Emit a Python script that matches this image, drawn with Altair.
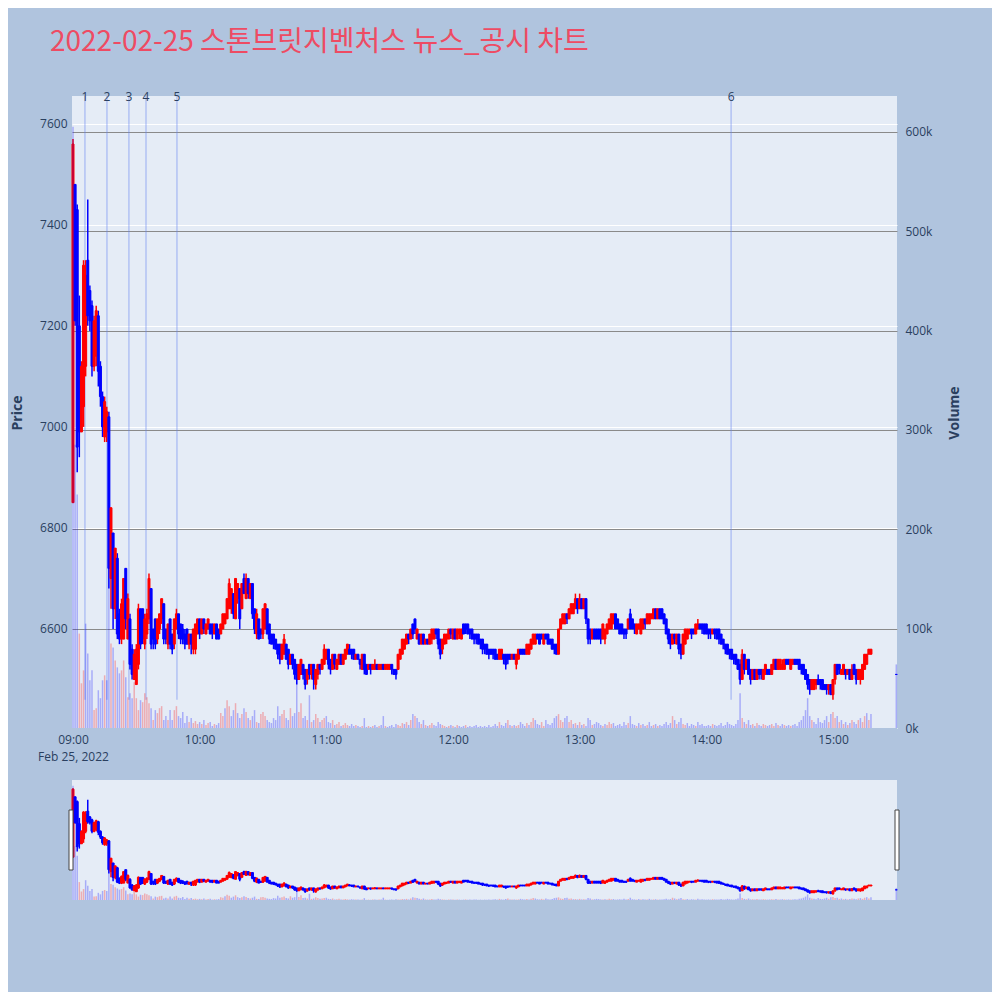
import altair as alt
import pandas as pd

TITLE = "2022-02-25 스톤브릿지벤처스 뉴스_공시 차트"
DATE_LABEL = "Feb 25, 2022"
DAY = "2022-02-25"
FIRST_MINUTE = "09:00"

# one candle per minute, 09:00 ... 15:18
opens = [
    6850, 7480, 7430, 7200, 6990, 7040, 7120, 7330, 7270, 7240,
    7120, 7140, 7220, 7120, 7060, 6980, 6990, 7020, 6700, 6790,
    6640, 6740, 6630, 6580, 6580, 6720, 6580, 6620, 6560, 6500,
    6490, 6530, 6640, 6640, 6570, 6590, 6620, 6680, 6600, 6620,
    6580, 6600, 6620, 6650, 6600, 6570, 6620, 6590, 6570, 6600,
    6630, 6610, 6600, 6590, 6600, 6570, 6590, 6560, 6560, 6590,
    6620, 6590, 6620, 6590, 6600, 6610, 6610, 6590, 6610, 6600,
    6590, 6600, 6610, 6620, 6640, 6640, 6670, 6620, 6660, 6680,
    6640, 6700, 6660, 6700, 6660, 6690, 6640, 6590, 6620, 6600,
    6590, 6600, 6640, 6610, 6590, 6590, 6580, 6570, 6570, 6540,
    6550, 6570, 6560, 6530, 6550, 6540, 6530, 6500, 6510, 6530,
    6520, 6500, 6530, 6510, 6530, 6490, 6510, 6530, 6520, 6530,
    6540, 6560, 6540, 6520, 6550, 6520, 6530, 6550, 6530, 6540,
    6550, 6560, 6560, 6560, 6540, 6550, 6540, 6520, 6550, 6530,
    6520, 6530, 6520, 6520, 6530, 6520, 6520, 6530, 6520, 6520,
    6520, 6530, 6520, 6520, 6520, 6540, 6550, 6560, 6570, 6590,
    6580, 6610, 6620, 6580, 6590, 6570, 6590, 6570, 6580, 6570,
    6580, 6580, 6600, 6600, 6580, 6560, 6570, 6580, 6580, 6600,
    6580, 6600, 6580, 6590, 6580, 6610, 6610, 6610, 6600, 6600,
    6590, 6590, 6590, 6580, 6580, 6570, 6570, 6560, 6560, 6560,
    6560, 6550, 6540, 6540, 6550, 6550, 6550, 6550, 6540, 6550,
    6530, 6540, 6560, 6560, 6560, 6550, 6550, 6560, 6570, 6570,
    6590, 6590, 6590, 6570, 6590, 6590, 6580, 6580, 6570, 6570,
    6550, 6600, 6610, 6610, 6630, 6620, 6630, 6630, 6640, 6660,
    6640, 6660, 6640, 6660, 6620, 6600, 6580, 6600, 6600, 6600,
    6600, 6580, 6580, 6590, 6600, 6600, 6610, 6630, 6620, 6610,
    6610, 6600, 6600, 6600, 6630, 6620, 6610, 6590, 6600, 6590,
    6600, 6620, 6610, 6610, 6620, 6620, 6640, 6620, 6640, 6640,
    6630, 6620, 6600, 6590, 6570, 6590, 6570, 6590, 6570, 6550,
    6570, 6580, 6590, 6600, 6600, 6590, 6600, 6610, 6610, 6610,
    6610, 6600, 6600, 6590, 6600, 6600, 6600, 6590, 6580, 6570,
    6570, 6560, 6560, 6550, 6550, 6540, 6530, 6500, 6550, 6520,
    6540, 6520, 6500, 6520, 6500, 6520, 6520, 6500, 6510, 6520,
    6520, 6510, 6520, 6540, 6520, 6520, 6520, 6520, 6540, 6540,
    6520, 6530, 6540, 6540, 6540, 6530, 6530, 6520, 6510, 6500,
    6480, 6480, 6490, 6500, 6500, 6500, 6490, 6490, 6480, 6490,
    6470, 6500, 6530, 6530, 6510, 6510, 6520, 6510, 6520, 6500,
    6530, 6520, 6500, 6500, 6500, 6520, 6530, 6550, 6550,
]
highs = [
    7570, 7480, 7440, 7260, 7130, 7330, 7330, 7450, 7280, 7250,
    7220, 7240, 7230, 7130, 7070, 7060, 7040, 7030, 6840, 6790,
    6760, 6750, 6640, 6660, 6700, 6720, 6670, 6630, 6570, 6560,
    6570, 6650, 6640, 6640, 6630, 6640, 6710, 6680, 6600, 6620,
    6620, 6630, 6660, 6650, 6600, 6610, 6620, 6590, 6620, 6640,
    6630, 6610, 6610, 6600, 6600, 6590, 6590, 6600, 6610, 6620,
    6620, 6620, 6620, 6610, 6620, 6610, 6610, 6610, 6610, 6600,
    6610, 6630, 6630, 6660, 6700, 6680, 6670, 6700, 6690, 6680,
    6690, 6710, 6710, 6700, 6690, 6690, 6640, 6640, 6620, 6600,
    6640, 6650, 6640, 6610, 6590, 6590, 6580, 6570, 6570, 6570,
    6590, 6570, 6560, 6550, 6550, 6540, 6530, 6530, 6540, 6530,
    6520, 6520, 6530, 6530, 6530, 6520, 6530, 6530, 6540, 6570,
    6560, 6560, 6540, 6550, 6550, 6540, 6550, 6550, 6550, 6560,
    6570, 6570, 6560, 6560, 6550, 6550, 6540, 6550, 6550, 6530,
    6530, 6530, 6530, 6540, 6530, 6530, 6530, 6530, 6530, 6530,
    6530, 6530, 6520, 6520, 6550, 6560, 6580, 6580, 6590, 6590,
    6600, 6610, 6620, 6600, 6590, 6590, 6590, 6580, 6580, 6590,
    6600, 6600, 6600, 6600, 6580, 6580, 6590, 6590, 6600, 6600,
    6600, 6600, 6600, 6600, 6600, 6610, 6610, 6610, 6600, 6600,
    6590, 6590, 6590, 6580, 6580, 6570, 6570, 6560, 6560, 6560,
    6560, 6550, 6560, 6560, 6550, 6550, 6550, 6550, 6550, 6550,
    6550, 6560, 6560, 6560, 6560, 6570, 6570, 6580, 6590, 6590,
    6590, 6590, 6590, 6590, 6590, 6590, 6580, 6580, 6570, 6570,
    6600, 6620, 6630, 6630, 6630, 6640, 6650, 6650, 6670, 6660,
    6670, 6660, 6660, 6660, 6620, 6600, 6600, 6600, 6600, 6600,
    6600, 6610, 6600, 6610, 6620, 6630, 6630, 6630, 6620, 6610,
    6610, 6600, 6600, 6620, 6640, 6620, 6610, 6610, 6610, 6620,
    6620, 6620, 6630, 6630, 6630, 6640, 6640, 6640, 6640, 6640,
    6630, 6620, 6600, 6590, 6590, 6590, 6590, 6590, 6570, 6590,
    6600, 6600, 6600, 6600, 6600, 6610, 6620, 6610, 6610, 6610,
    6610, 6600, 6600, 6600, 6600, 6600, 6600, 6590, 6580, 6570,
    6570, 6560, 6560, 6550, 6550, 6540, 6540, 6560, 6550, 6540,
    6540, 6520, 6520, 6520, 6520, 6520, 6520, 6520, 6530, 6520,
    6520, 6530, 6540, 6540, 6540, 6540, 6540, 6540, 6540, 6540,
    6540, 6540, 6540, 6540, 6540, 6530, 6530, 6520, 6510, 6500,
    6500, 6500, 6500, 6510, 6500, 6500, 6490, 6490, 6490, 6490,
    6500, 6530, 6530, 6530, 6520, 6530, 6520, 6520, 6520, 6530,
    6530, 6520, 6520, 6520, 6530, 6550, 6550, 6560, 6560,
]
lows = [
    6850, 7200, 6910, 6940, 6990, 7000, 7100, 7200, 7190, 7100,
    7110, 7120, 7080, 7040, 6980, 6970, 6970, 6680, 6640, 6600,
    6620, 6580, 6570, 6570, 6580, 6600, 6580, 6520, 6500, 6500,
    6490, 6520, 6560, 6570, 6560, 6580, 6610, 6560, 6560, 6560,
    6570, 6590, 6610, 6570, 6570, 6560, 6560, 6550, 6560, 6600,
    6580, 6570, 6570, 6560, 6570, 6560, 6550, 6550, 6550, 6590,
    6580, 6590, 6590, 6590, 6600, 6590, 6580, 6590, 6580, 6580,
    6590, 6600, 6610, 6620, 6640, 6630, 6620, 6620, 6650, 6600,
    6640, 6670, 6660, 6660, 6660, 6620, 6590, 6580, 6580, 6580,
    6580, 6600, 6590, 6570, 6570, 6560, 6560, 6540, 6530, 6540,
    6550, 6540, 6520, 6530, 6520, 6500, 6490, 6500, 6510, 6500,
    6480, 6490, 6500, 6500, 6480, 6480, 6500, 6510, 6520, 6530,
    6540, 6520, 6510, 6520, 6520, 6520, 6530, 6530, 6530, 6540,
    6550, 6550, 6540, 6540, 6540, 6540, 6520, 6520, 6510, 6510,
    6520, 6510, 6520, 6520, 6520, 6520, 6520, 6520, 6520, 6520,
    6520, 6510, 6510, 6500, 6520, 6540, 6550, 6560, 6570, 6570,
    6580, 6580, 6590, 6580, 6570, 6570, 6570, 6570, 6570, 6570,
    6570, 6580, 6580, 6560, 6540, 6550, 6570, 6570, 6580, 6580,
    6580, 6580, 6580, 6580, 6580, 6590, 6590, 6590, 6580, 6580,
    6570, 6570, 6570, 6560, 6550, 6550, 6550, 6540, 6550, 6540,
    6540, 6540, 6540, 6540, 6530, 6520, 6530, 6540, 6540, 6540,
    6520, 6540, 6550, 6550, 6550, 6550, 6550, 6560, 6570, 6570,
    6580, 6570, 6580, 6570, 6580, 6570, 6570, 6560, 6550, 6550,
    6550, 6600, 6610, 6610, 6610, 6620, 6630, 6630, 6640, 6630,
    6640, 6640, 6640, 6610, 6570, 6570, 6580, 6580, 6580, 6580,
    6570, 6580, 6570, 6590, 6600, 6600, 6610, 6600, 6600, 6590,
    6590, 6580, 6580, 6600, 6600, 6600, 6590, 6590, 6600, 6590,
    6600, 6600, 6610, 6610, 6620, 6620, 6620, 6620, 6620, 6620,
    6610, 6590, 6570, 6560, 6570, 6570, 6570, 6550, 6540, 6550,
    6570, 6580, 6590, 6580, 6590, 6590, 6600, 6600, 6590, 6590,
    6590, 6580, 6580, 6590, 6580, 6580, 6570, 6570, 6560, 6550,
    6550, 6540, 6540, 6530, 6530, 6520, 6490, 6500, 6510, 6520,
    6510, 6490, 6500, 6500, 6500, 6500, 6500, 6500, 6510, 6510,
    6510, 6510, 6520, 6520, 6520, 6520, 6520, 6520, 6530, 6530,
    6520, 6530, 6530, 6530, 6520, 6510, 6510, 6500, 6480, 6470,
    6480, 6480, 6480, 6490, 6480, 6480, 6480, 6470, 6470, 6470,
    6460, 6490, 6510, 6510, 6510, 6510, 6500, 6510, 6500, 6500,
    6510, 6490, 6500, 6490, 6500, 6520, 6530, 6550, 6550,
]
closes = [
    7560, 7210, 6960, 6990, 7120, 7320, 7300, 7220, 7210, 7120,
    7210, 7230, 7110, 7060, 7000, 7050, 7030, 6720, 6840, 6640,
    6760, 6590, 6580, 6650, 6700, 6620, 6660, 6530, 6510, 6550,
    6560, 6640, 6570, 6580, 6620, 6630, 6700, 6570, 6580, 6570,
    6620, 6630, 6660, 6580, 6580, 6610, 6570, 6560, 6620, 6630,
    6590, 6580, 6580, 6570, 6570, 6590, 6570, 6600, 6610, 6620,
    6590, 6620, 6600, 6610, 6620, 6590, 6590, 6610, 6580, 6580,
    6610, 6630, 6630, 6660, 6690, 6680, 6630, 6700, 6690, 6620,
    6690, 6670, 6700, 6670, 6690, 6630, 6600, 6630, 6580, 6590,
    6640, 6650, 6590, 6580, 6570, 6570, 6560, 6550, 6540, 6570,
    6580, 6540, 6530, 6550, 6530, 6510, 6500, 6530, 6540, 6510,
    6490, 6520, 6510, 6530, 6500, 6520, 6530, 6520, 6540, 6560,
    6560, 6530, 6520, 6550, 6530, 6540, 6550, 6530, 6550, 6560,
    6570, 6550, 6550, 6540, 6550, 6540, 6530, 6550, 6520, 6510,
    6530, 6520, 6530, 6530, 6520, 6530, 6530, 6520, 6530, 6530,
    6530, 6520, 6510, 6510, 6550, 6560, 6580, 6580, 6590, 6580,
    6600, 6590, 6600, 6600, 6570, 6590, 6570, 6580, 6570, 6590,
    6600, 6600, 6590, 6570, 6550, 6580, 6590, 6590, 6600, 6590,
    6600, 6580, 6600, 6600, 6600, 6590, 6600, 6590, 6590, 6580,
    6580, 6580, 6570, 6570, 6560, 6560, 6550, 6550, 6550, 6550,
    6540, 6540, 6560, 6560, 6540, 6530, 6540, 6540, 6550, 6540,
    6550, 6560, 6550, 6550, 6550, 6570, 6570, 6580, 6590, 6590,
    6580, 6570, 6580, 6590, 6580, 6570, 6570, 6560, 6560, 6550,
    6600, 6620, 6630, 6630, 6620, 6640, 6650, 6650, 6660, 6640,
    6660, 6640, 6660, 6620, 6580, 6580, 6600, 6580, 6580, 6580,
    6580, 6610, 6600, 6610, 6620, 6630, 6630, 6600, 6600, 6590,
    6590, 6590, 6590, 6620, 6600, 6600, 6600, 6610, 6610, 6620,
    6620, 6610, 6630, 6630, 6630, 6640, 6620, 6640, 6620, 6620,
    6610, 6590, 6580, 6570, 6590, 6580, 6590, 6560, 6550, 6590,
    6600, 6600, 6600, 6590, 6590, 6610, 6610, 6600, 6600, 6590,
    6590, 6590, 6590, 6600, 6590, 6580, 6580, 6570, 6570, 6560,
    6550, 6550, 6540, 6540, 6530, 6520, 6500, 6550, 6520, 6540,
    6510, 6500, 6520, 6500, 6520, 6510, 6510, 6520, 6530, 6510,
    6510, 6530, 6540, 6520, 6540, 6540, 6530, 6540, 6530, 6530,
    6540, 6540, 6530, 6530, 6520, 6520, 6510, 6500, 6490, 6480,
    6500, 6500, 6500, 6490, 6490, 6480, 6480, 6480, 6490, 6470,
    6500, 6530, 6510, 6520, 6520, 6530, 6510, 6520, 6500, 6520,
    6510, 6500, 6520, 6520, 6530, 6550, 6550, 6560, 6560,
]
volumes_k = [
    605, 285, 235, 95, 45, 58, 105, 75, 48, 58,
    18, 20, 38, 30, 48, 53, 48, 290, 85, 81,
    68, 61, 55, 58, 68, 51, 31, 35, 30, 46,
    30, 18, 28, 26, 35, 31, 25, 20, 8, 18,
    15, 20, 22, 8, 12, 8, 18, 8, 18, 22,
    12, 10, 16, 5, 12, 6, 10, 5, 7, 4,
    6, 4, 8, 3, 5, 6, 2, 4, 3, 5,
    15, 12, 20, 28, 22, 12, 18, 25, 15, 10,
    14, 20, 16, 10, 8, 12, 18, 6, 5, 14,
    16, 12, 8, 6, 5, 10, 8, 22, 12, 14,
    18, 10, 8, 20, 12, 15, 50, 16, 25, 10,
    12, 8, 33, 6, 8, 14, 10, 6, 8, 10,
    12, 6, 5, 8, 3, 4, 6, 2, 3, 5,
    3, 2, 4, 2, 3, 2, 1, 2, 10, 1,
    2, 1, 2, 3, 1, 2, 3, 12, 2, 1,
    2, 3, 1, 4, 3, 2, 5, 4, 6, 3,
    8, 14, 12, 10, 6, 4, 8, 3, 2, 3,
    5, 3, 2, 6, 4, 3, 2, 1, 2, 3,
    2, 1, 3, 2, 1, 2, 3, 1, 2, 1,
    2, 3, 1, 2, 1, 2, 1, 3, 1, 2,
    4, 2, 6, 3, 2, 5, 8, 3, 2, 3,
    2, 3, 6, 4, 2, 5, 3, 6, 10, 8,
    4, 3, 6, 2, 8, 4, 3, 5, 10, 12,
    14, 8, 6, 10, 12, 6, 8, 4, 5, 3,
    6, 3, 4, 2, 10, 8, 3, 4, 6, 5,
    3, 2, 4, 3, 6, 4, 5, 2, 3, 4,
    2, 6, 3, 5, 12, 4, 3, 2, 5, 3,
    4, 2, 3, 6, 2, 3, 4, 2, 3, 2,
    4, 6, 3, 5, 12, 8, 4, 6, 10, 4,
    3, 5, 2, 4, 3, 2, 6, 3, 4, 2,
    2, 3, 2, 4, 3, 2, 3, 5, 2, 3,
    6, 4, 3, 2, 4, 8, 35, 10, 6, 4,
    8, 3, 4, 2, 5, 3, 2, 4, 3, 2,
    3, 4, 2, 5, 3, 2, 4, 3, 2, 3,
    2, 3, 4, 2, 6, 8, 12, 18, 30, 12,
    8, 6, 4, 10, 6, 5, 8, 12, 6, 14,
    16, 10, 12, 6, 8, 4, 6, 3, 5, 8,
    6, 4, 8, 10, 6, 12, 15, 8, 14,
]

# closing auction
auction_time = "15:30"
auction_ohlc = [6510, 6510, 6510, 6510]
auction_volume_k = 64

# news / disclosure markers
news_times = ["09:05:40", "09:16:05", "09:26:30", "09:34:35", "09:49:15", "14:11:45"]
news_labels = ["1", "2", "3", "4", "5", "6"]

price_ticks = [6600, 6800, 7000, 7200, 7400, 7600]
volume_ticks = [0, 100000, 200000, 300000, 400000, 500000, 600000]
hour_ticks = [9, 10, 11, 12, 13, 14, 15]
price_domain = [6404, 7655]
volume_domain = [0, 636000]

UP, DOWN = "#ff0000", "#0000ff"
FONT = "Open Sans"
TXT = "#2a3f5f"

# ---------- tables ----------
times = pd.date_range(f"{DAY} {FIRST_MINUTE}", periods=len(opens), freq="min")
t_str = [ts.strftime("%Y-%m-%dT%H:%M:%SZ") for ts in times] + [f"{DAY}T{auction_time}:00Z"]
o = opens + [auction_ohlc[0]]
h = highs + [auction_ohlc[1]]
l = lows + [auction_ohlc[2]]
c = closes + [auction_ohlc[3]]
v = [x * 1000 for x in volumes_k + [auction_volume_k]]
cdir = ["up" if c[i] > o[i] else "down" for i in range(len(c))]
vdir = ["down"] + ["up" if c[i] > c[i - 1] else "down" for i in range(1, len(c))]
df = pd.DataFrame({"t": t_str, "o": o, "h": h, "l": l, "c": c, "v": v, "d": cdir, "vd": vdir})

news = pd.DataFrame({
    "t": [f"{DAY}T{x}Z" for x in news_times],
    "label": news_labels,
    "lo": [min(lows)] * len(news_times),
})
one = pd.DataFrame({"k": [0]})

W, H_MAIN, GAP_TOP, SL_TOP, H = 825, 632, 632, 684, 804


def dt(hh, mm=0, ss=0):
    return alt.DateTime(year=2022, month=2, date=25, hours=hh, minutes=mm, seconds=ss, utc=True)


x_axis = alt.Axis(
    values=[dt(hh) for hh in hour_ticks],
    labelExpr=f"utchours(datum.value) == 9 ? ['09:00', '{DATE_LABEL}'] : utcFormat(datum.value, '%H:%M')",
    labelFlush=False, labelOverlap=False, domain=False, ticks=False, grid=False,
    offset=-(H - H_MAIN), labelPadding=6, labelFontSize=12, labelColor=TXT, labelFont=FONT,
    labelLineHeight=17, zindex=1, title=None,
)
X = alt.X("t:T", scale=alt.Scale(type="utc", domain=[dt(8, 59, 32), dt(15, 30, 20)], padding=0),
          axis=x_axis, title=None)

col = alt.Color("d:N", scale=alt.Scale(domain=["up", "down"], range=[UP, DOWN]), legend=None)
scol = alt.Stroke("d:N", scale=alt.Scale(domain=["up", "down"], range=[UP, DOWN]), legend=None)
vcol = alt.Color("vd:N", scale=alt.Scale(domain=["up", "down"], range=[UP, DOWN]), legend=None)


def ps(rng):
    return alt.Scale(domain=price_domain, range=rng, nice=False, zero=False)


def vs(rng):
    return alt.Scale(domain=volume_domain, range=rng, nice=False)


price_axis = alt.Axis(
    orient="left", values=price_ticks, format="d", grid=True, gridColor="white", gridWidth=1,
    domain=False, ticks=False, labelPadding=5, labelFontSize=12, labelColor=TXT, labelFont=FONT, title=None,
)
vol_axis = alt.Axis(
    orient="right", values=volume_ticks, format="~s", grid=True,
    gridColor=alt.condition("datum.value === 0", alt.value("white"), alt.value("#8a8a8a")),
    gridWidth=1, domain=False, ticks=False, labelPadding=8, labelFontSize=12, labelColor=TXT,
    labelFont=FONT, title=None,
)

gap = alt.Chart(one).mark_rect(color="#b0c4de").encode(
    x=alt.value(0), x2=alt.value(W), y=alt.value(GAP_TOP), y2=alt.value(SL_TOP))

news_rules = alt.Chart(news).mark_rule(color="#6482f0", opacity=0.4, strokeWidth=1.5).encode(
    x=X, y=alt.Y("lo:Q", scale=ps([H_MAIN, 0]), axis=None), y2=alt.value(0))
news_text = alt.Chart(news).mark_text(fontSize=12, font=FONT, color=TXT, baseline="middle").encode(
    x=X, y=alt.value(1), text="label:N")

wick = alt.Chart(df).mark_rule(strokeWidth=1.5).encode(
    x=X, y=alt.Y("l:Q", scale=ps([H_MAIN, 0]), axis=None), y2="h:Q", color=col)
body = alt.Chart(df).mark_bar(size=2, strokeWidth=1).encode(
    x=X, y=alt.Y("o:Q", scale=ps([H_MAIN, 0]), axis=price_axis, title=None), y2="c:Q",
    color=col, stroke=scol)
vol = alt.Chart(df).mark_bar(size=1.5, opacity=0.27).encode(
    x=X, y=alt.Y("v:Q", scale=vs([H_MAIN, 0]), axis=vol_axis, title=None), color=vcol)

s_wick = alt.Chart(df).mark_rule(strokeWidth=1.5).encode(
    x=X, y=alt.Y("l:Q", scale=ps([H, SL_TOP]), axis=None), y2="h:Q", color=col)
s_body = alt.Chart(df).mark_bar(size=2, strokeWidth=1).encode(
    x=X, y=alt.Y("o:Q", scale=ps([H, SL_TOP]), axis=None), y2="c:Q", color=col, stroke=scol)
s_vol = alt.Chart(df).mark_bar(size=1.5, opacity=0.27).encode(
    x=X, y=alt.Y("v:Q", scale=vs([H, SL_TOP]), axis=None), color=vcol)

h_left = alt.Chart(one).mark_rect(fill="white", stroke="#444", strokeWidth=1).encode(
    x=alt.value(-3), x2=alt.value(1), y=alt.value(SL_TOP + 30), y2=alt.value(SL_TOP + 90))
h_right = alt.Chart(one).mark_rect(fill="white", stroke="#444", strokeWidth=1).encode(
    x=alt.value(W - 2), x2=alt.value(W + 2), y=alt.value(SL_TOP + 30), y2=alt.value(SL_TOP + 90))

title = alt.Chart(one).mark_text(
    text=TITLE, align="left", baseline="alphabetic", fontSize=28, font="Noto Sans CJK KR", color="#ee4b63"
).encode(x=alt.value(-22), y=alt.value(-45))
price_title = alt.Chart(one).mark_text(
    text="Price", angle=270, align="center", baseline="middle", fontSize=14, fontWeight="bold",
    font=FONT, color=TXT).encode(x=alt.value(-54), y=alt.value(317))
vol_title = alt.Chart(one).mark_text(
    text="Volume", angle=270, align="center", baseline="middle", fontSize=14, fontWeight="bold",
    font=FONT, color=TXT).encode(x=alt.value(W + 58), y=alt.value(317))

chart = alt.layer(
    gap, news_rules, wick, body, vol, news_text, s_wick, s_body, s_vol, h_left, h_right,
    title, price_title, vol_title,
).resolve_scale(y="independent").properties(
    width=W, height=H,
    autosize=alt.AutoSizeParams(type="none"),
    padding={"left": 64, "top": 88, "right": 95, "bottom": 92},
    background="#b0c4de",
).configure_view(fill="#e5ecf6", stroke=None)

chart.save("out.html", embed_options={"renderer": "svg", "actions": False})
